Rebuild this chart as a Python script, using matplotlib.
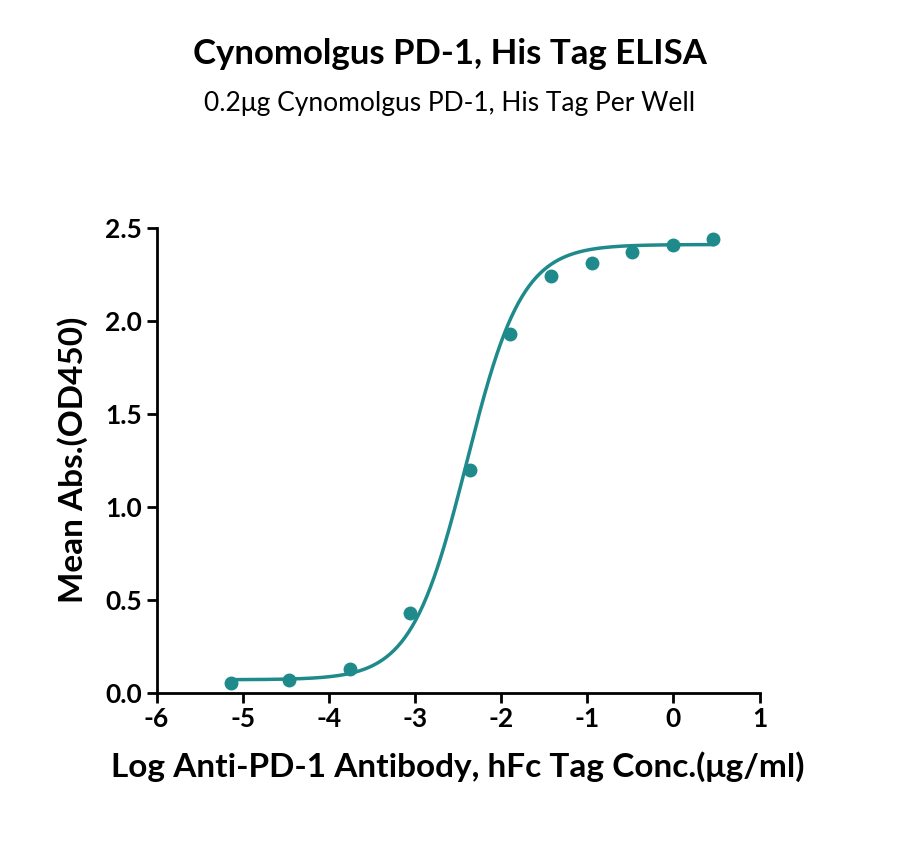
import numpy as np
import matplotlib
matplotlib.use("Agg")
import matplotlib.pyplot as plt

plt.rcParams['font.family'] = ['Lato', 'DejaVu Sans']

log_conc = [-5.14, -4.46, -3.76, -3.06, -2.36, -1.90, -1.42, -0.95, -0.48, -0.01, 0.46]
od450 = [0.055, 0.07, 0.13, 0.43, 1.20, 1.93, 2.24, 2.31, 2.37, 2.41, 2.44]
bottom, top, logec50, hill = 0.07, 2.41, -2.40, 1.35
xticks = [-6, -5, -4, -3, -2, -1, 0, 1]
yticks = [0.0, 0.5, 1.0, 1.5, 2.0, 2.5]
color = "#1f8a8b"

fig = plt.figure(figsize=(9, 8.5), dpi=100)
ax = fig.add_axes([0.174, 0.185, 0.670, 0.547])

xs = np.linspace(min(log_conc), max(log_conc), 400)
ys = bottom + (top - bottom) / (1 + 10 ** ((logec50 - xs) * hill))
ax.plot(xs, ys, color=color, lw=2.5)
ax.plot(log_conc, od450, 'o', color=color, ms=9)

ax.set_xlim(-6, 1)
ax.set_ylim(0, 2.5)
ax.set_xticks(xticks)
ax.set_yticks(yticks)
ax.set_xticklabels([str(t) for t in xticks])
ax.set_yticklabels([f"{t:.1f}" for t in yticks])
for s in ['top', 'right']:
    ax.spines[s].set_visible(False)
for s in ['left', 'bottom']:
    ax.spines[s].set_linewidth(2)
ax.tick_params(width=2, length=7, labelsize=19)
for lab in ax.get_xticklabels() + ax.get_yticklabels():
    lab.set_fontweight('bold')
ax.set_xlabel("Log Anti-PD-1 Antibody, hFc Tag Conc.(μg/ml)", fontsize=24, fontweight='bold', labelpad=14)
ax.set_ylabel("Mean Abs.(OD450)", fontsize=24, fontweight='bold', labelpad=12)

fig.text(0.5, 0.925, "Cynomolgus PD-1, His Tag ELISA", ha='center', fontsize=25, fontweight='bold')
fig.text(0.5, 0.87, "0.2μg Cynomolgus PD-1, His Tag Per Well", ha='center', fontsize=19)

fig.savefig("out.png", dpi=100)
